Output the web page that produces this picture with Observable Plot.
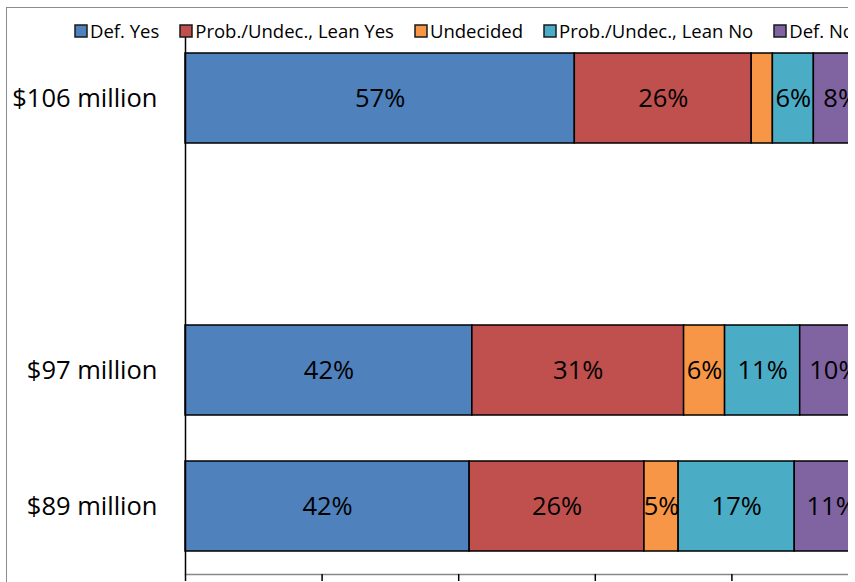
<!DOCTYPE html>
<html><head><meta charset="utf-8">
<script src="https://cdn.jsdelivr.net/npm/d3@7"></script>
<script src="https://cdn.jsdelivr.net/npm/@observablehq/plot@0.6"></script>
<style>
html,body{margin:0;padding:0;background:#fff;overflow:hidden;}
#wrap{position:relative;width:848px;height:582px;overflow:hidden;font-family:"Open Sans",sans-serif;background:#fff;}
#chart{position:absolute;left:0;top:0;}
#frame{position:absolute;left:6px;top:7px;width:900px;height:600px;border-left:1.5px solid #8c8c8c;border-top:1.5px solid #8c8c8c;pointer-events:none;}
#legend{position:absolute;left:75px;top:14px;height:33px;width:1000px;}
.lg-swatches{font-family:"Open Sans",sans-serif !important;font-size:18.5px !important;color:#000 !important;min-height:33px !important;height:33px;flex-wrap:nowrap !important;white-space:nowrap;margin:0 !important;}
.lg-swatch{margin-right:21px !important;}
.lg-swatch > svg{margin-right:3px !important;overflow:visible;}
.lg-swatch > svg rect{stroke:#1a1a1a;stroke-width:1.5px;}
</style>
</head><body>
<div id="wrap"><div id="chart"></div><div id="frame"></div><div id="legend"></div></div>
<script>
const categories = ["$106 million", "", "$97 million", "$89 million"];
const rowCats = ["$106 million", "$97 million", "$89 million"];
const series = ["Def. Yes", "Prob./Undec., Lean Yes", "Undecided", "Prob./Undec., Lean No", "Def. No"];
const colors = ["#4F81BD", "#C0504D", "#F79646", "#4BACC6", "#8064A2"];
const defYes    = [57.0, 42.0, 41.6];
const leanYes   = [25.9, 31.0, 25.6];
const undecided = [3.1, 6.0, 5.0];
const leanNo    = [6.0, 11.0, 17.0];
const defNo     = [8.0, 10.0, 10.8];
const xTicks = [0, 20, 40, 60, 80, 100];

const seriesValues = [defYes, leanYes, undecided, leanNo, defNo];
const table = [];
series.forEach((s, si) => {
  rowCats.forEach((c, ri) => {
    const v = seriesValues[si][ri];
    table.push({cat: c, series: s, value: v, label: v >= 4 ? Math.round(v) + "%" : ""});
  });
});

const chart = Plot.plot({
  width: 848, height: 582,
  marginLeft: 185, marginRight: 0, marginTop: 30, marginBottom: 8,
  style: {fontFamily: "Open Sans", fontSize: "25.5px", color: "#000", overflow: "hidden", background: "transparent"},
  x: {domain: [0, 100], range: [185, 868], label: null},
  y: {domain: categories, paddingInner: 0.338, paddingOuter: 0.169, label: null},
  color: {domain: series, range: colors},
  marks: [
    Plot.barX(table, Plot.stackX({x: "value", y: "cat", fill: "series", stroke: "black", strokeWidth: 1.5})),
    Plot.text(table, Plot.stackX({x: "value", y: "cat", z: "series", text: "label", fill: "black", fontSize: 25.5})),
    Plot.frame({anchor: "bottom", stroke: "#888", strokeWidth: 1.5}),
    Plot.ruleX([0], {stroke: "black", strokeWidth: 1.5}),
    Plot.axisX({anchor: "bottom", ticks: xTicks, tickSize: 7, tickFormat: () => "", stroke: "black", strokeWidth: 1.5, label: null}),
    Plot.axisY({anchor: "left", tickSize: 0, tickPadding: 28, fontSize: 25.5, fill: "black", label: null})
  ]
});
document.getElementById("chart").appendChild(chart);

const legend = Plot.legend({
  color: {domain: series, range: colors},
  legend: "swatches",
  swatchSize: 12,
  className: "lg"
});
document.getElementById("legend").appendChild(legend);
</script>
</body></html>
